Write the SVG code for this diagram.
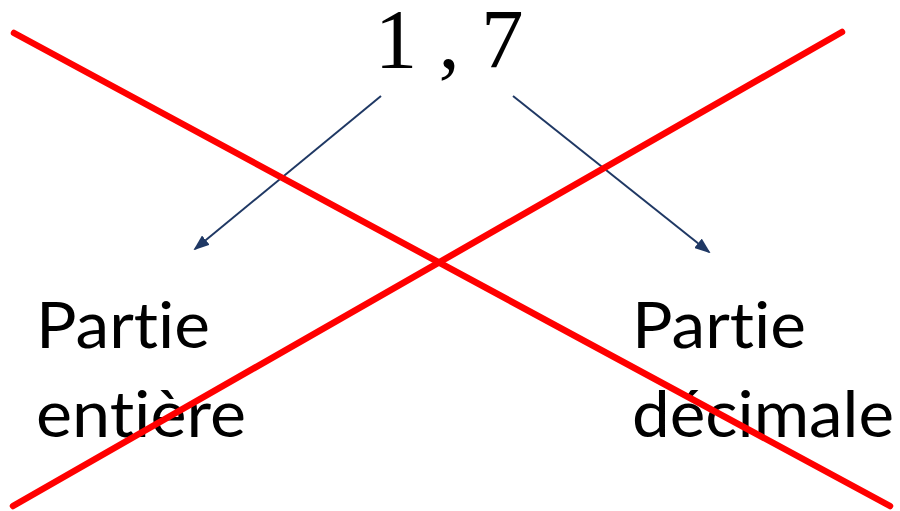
<svg xmlns="http://www.w3.org/2000/svg" width="900" height="511" viewBox="0 0 900 511">
<style>
.lbl{font-family:"Lato","Open Sans","Liberation Sans",sans-serif;font-size:64px;fill:#000;font-variant-ligatures:none;font-feature-settings:"liga" 0}
.num{font-family:"Liberation Serif","Times New Roman",serif;font-size:85px;fill:#000}
.arr{stroke:#1F3864;stroke-width:2;fill:none;marker-end:url(#ah)}
.cross{stroke:#FF0000;stroke-width:6.5;stroke-linecap:round}
</style>
<defs>
<marker id="ah" viewBox="0 0 16 12" refX="14" refY="6" markerWidth="16" markerHeight="12" orient="auto" markerUnits="userSpaceOnUse">
<path d="M0,0 L16,6 L0,12 z" fill="#1F3864"/>
</marker>
</defs>
<rect width="900" height="511" fill="#fff"/>
<g id="number"><text class="num" x="449" y="68" text-anchor="middle">1 , 7</text></g>
<g id="left"><text class="lbl" x="36" y="348" textLength="174" lengthAdjust="spacingAndGlyphs">Partie</text><text class="lbl" x="36" y="437" textLength="210" lengthAdjust="spacingAndGlyphs">entière</text></g>
<g id="right"><text class="lbl" x="632" y="348" textLength="174" lengthAdjust="spacingAndGlyphs">Partie</text><text class="lbl" x="632" y="437" textLength="262" lengthAdjust="spacingAndGlyphs">décimale</text></g>
<g id="connectors">
<line class="arr" x1="381" y1="96" x2="195" y2="249"/>
<line class="arr" x1="513" y1="96" x2="709" y2="252"/>
</g>
<g id="cross">
<line class="cross" x1="14" y1="33" x2="890" y2="506"/>
<line class="cross" x1="842" y1="32" x2="13" y2="506"/>
</g>
</svg>
